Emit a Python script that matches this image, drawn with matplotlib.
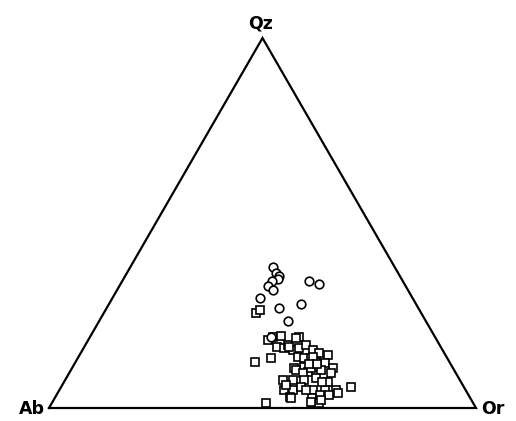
import numpy as np
import matplotlib
matplotlib.use("Agg")
import matplotlib.pyplot as plt

# Modal compositions in wt% (Qz, Or); Ab makes up the rest
circle_qz = [38.2, 36.6, 35.7, 34.8, 34.3, 33.0, 31.9, 34.4, 33.4, 29.6, 27.1, 28.0, 23.6, 19.2]
circle_or = [33.3, 34.9, 35.9, 36.2, 35.0, 34.8, 36.5, 43.8, 46.6, 34.5, 40.2, 44.9, 44.1, 42.3]

square_qz = [25.6, 26.5, 19.3, 19.5, 19.1, 12.5, 13.4, 16.6, 16.1, 15.7,
             17.0, 18.8, 16.1, 17.0, 15.7, 14.8, 14.3, 13.9, 13.4, 13.4,
             12.5, 12.1, 10.7, 11.2, 11.2, 10.7, 9.8, 10.3, 9.4, 10.7,
             10.3, 9.4, 7.6, 7.6, 7.6, 8.0, 7.1, 4.9, 4.9, 5.8,
             4.9, 4.9, 4.9, 5.8, 3.1, 2.6, 3.5, 3.5, 4.0, 1.4,
             1.4, 1.3, 6.2, 7.1, 4.9, 1.7, 2.2, 13.8, 11.9, 11.9,
             18.3, 16.6, 2.8]
square_or = [35.7, 36.1, 42.8, 44.6, 49.1, 41.9, 45.3, 45.1, 47.1, 49.2,
             47.4, 48.5, 50.6, 51.7, 53.9, 55.9, 58.1, 51.3, 53.1, 54.7,
             56.3, 58.5, 52.1, 54.2, 56.6, 61.1, 55.7, 52.7, 54.7, 56.0,
             58.6, 61.4, 51.0, 53.3, 56.0, 58.5, 61.7, 52.7, 54.7, 56.2,
             59.3, 62.1, 64.8, 67.8, 54.8, 60.4, 61.6, 63.9, 65.6, 61.1,
             62.6, 50.1, 52.4, 60.5, 57.8, 60.5, 62.6, 55.0, 56.9, 55.0,
             42.2, 47.8, 55.2]

apices = ["Qz", "Ab", "Or"]


def to_xy(qz, orth):
    qz = np.asarray(qz)
    orth = np.asarray(orth)
    return orth + qz / 2.0, qz * np.sqrt(3) / 2.0


fig = plt.figure(figsize=(5.16, 4.21), dpi=100)
h = 100 * np.sqrt(3) / 2
ax = fig.add_axes([49 / 516, 1 - 408 / 421, 427 / 516, 370 / 421])
ax.set_xlim(0, 100)
ax.set_ylim(0, h)
ax.axis("off")

# triangle frame
ax.plot([0, 100, 50, 0], [0, 0, h, 0], color="black", lw=1.6,
        solid_joinstyle="miter", clip_on=False)

sx, sy = to_xy(square_qz, square_or)
ax.plot(sx, sy, "s", ms=6.2, mfc="white", mec="black", mew=1.2, clip_on=False)
cx, cy = to_xy(circle_qz, circle_or)
ax.plot(cx, cy, "o", ms=6.2, mfc="white", mec="black", mew=1.2, clip_on=False)

font = dict(fontsize=12.5, fontweight="bold", family="DejaVu Sans", color="black")
ax.text(49.5, h + 2.3, apices[0], ha="center", va="baseline", **font)
ax.text(-0.9, -1.4, apices[1], ha="right", va="baseline", **font)
ax.text(101.2, -1.4, apices[2], ha="left", va="baseline", **font)

fig.savefig("out.png", dpi=100)
